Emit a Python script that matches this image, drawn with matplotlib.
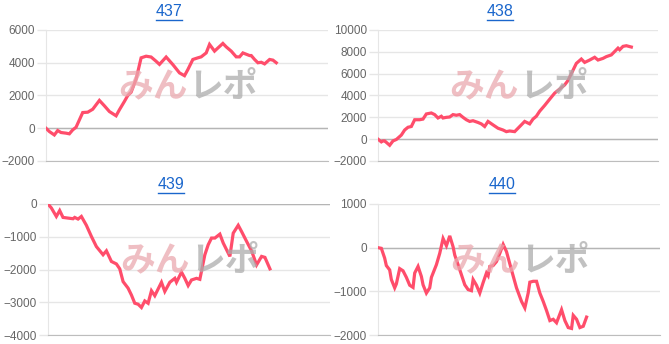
import matplotlib
matplotlib.use("Agg")
import matplotlib.pyplot as plt
from matplotlib.lines import Line2D

# ---------------- data ----------------
titles = ["437", "438", "439", "440"]

x437 = [0, 2, 5, 7, 9, 12, 14, 16, 18, 20, 22, 25, 28, 32, 35, 38, 42, 44, 47, 49, 51, 54, 57, 60, 63, 66, 68,
        72, 76, 80, 83, 85, 88, 91, 93, 96, 98, 101, 103, 106, 108, 111, 114, 116, 118, 120, 122, 123, 125, 127,
        129, 131, 134, 136, 138]
y437 = [0, -200, -410, -140, -260, -300, -340, -100, 60, 510, 960, 980, 1160, 1700, 1370, 1020, 760, 1130, 1640,
        2000, 2200, 3000, 4300, 4400, 4350, 4090, 3900, 4350, 3890, 3380, 3210, 3580, 4200, 4300, 4360, 4600, 5120,
        4710, 4900, 5180, 4970, 4710, 4360, 4360, 4600, 4520, 4440, 4440, 4200, 4000, 4030, 3930, 4200, 4160, 4000]

x438 = [0, 2, 3, 4, 7, 9, 11, 14, 16, 18, 20, 22, 25, 27, 29, 32, 34, 36, 38, 39, 41, 43, 45, 47, 49, 51, 53, 55,
        57, 60, 62, 64, 66, 69, 72, 75, 77, 79, 82, 84, 86, 88, 91, 93, 95, 97, 100, 103, 106, 109, 112, 114, 116,
        119, 122, 124, 127, 130, 132, 135, 137, 140, 142, 144, 145, 147, 149, 152]
y438 = [0, -250, -160, -160, -560, -160, -30, 375, 840, 1090, 1160, 1780, 1780, 1840, 2310, 2400, 2250, 1940, 2100,
        1940, 2000, 2030, 2250, 2190, 2250, 2000, 1780, 1625, 1690, 1530, 1400, 1160, 1625, 1310, 1000, 840, 690,
        750, 690, 1000, 1310, 1625, 1400, 1840, 2100, 2560, 3090, 3660, 4220, 4590, 4970, 5375, 6000, 6940, 7340,
        7030, 7250, 7500, 7250, 7400, 7560, 7720, 8030, 8340, 8190, 8500, 8560, 8440]

x439 = [0, 2, 5, 7, 9, 12, 15, 16, 18, 20, 23, 26, 29, 33, 35, 38, 41, 43, 45, 48, 50, 52, 54, 56, 58, 60, 62, 64,
        68, 70, 73, 76, 77, 80, 82, 84, 86, 89, 91, 94, 96, 98, 100, 103, 105, 109, 111, 114, 116, 119, 122, 125,
        128, 130, 133]
y439 = [0, -120, -380, -200, -410, -430, -450, -410, -460, -380, -650, -990, -1300, -1550, -1430, -1755, -1830,
        -1980, -2370, -2570, -2780, -3030, -3060, -3160, -2960, -3030, -2650, -2800, -2390, -2670, -2390, -2270,
        -2390, -2080, -2270, -2490, -2320, -2270, -2300, -1550, -1245, -1040, -1040, -920, -1190, -1600, -890,
        -650, -840, -1140, -1430, -1860, -1600, -1630, -1980]

x440 = [0, 2, 4, 5, 7, 8, 10, 11, 13, 15, 17, 19, 21, 22, 24, 26, 27, 29, 31, 32, 35, 37, 39, 41, 43, 45, 46, 48,
        50, 52, 54, 56, 57, 59, 61, 63, 65, 66, 67, 69, 71, 73, 75, 77, 80, 83, 86, 88, 90, 91, 93, 95, 97, 99,
        101, 103, 105, 107, 108, 110, 112, 114, 116, 117, 119, 121, 123, 125]
y440 = [0, -15, -240, -410, -510, -730, -920, -830, -480, -530, -680, -860, -910, -580, -430, -660, -850, -1040,
        -920, -680, -390, -130, 210, 45, 270, 20, -170, -390, -620, -850, -960, -985, -730, -860, -1040, -800,
        -580, -640, -430, -410, -320, -130, 75, -90, -510, -920, -1230, -1380, -1040, -790, -770, -770, -1040,
        -1230, -1440, -1670, -1640, -1720, -1620, -1420, -1670, -1830, -1850, -1550, -1640, -1830, -1800, -1590]

xs = [x437, x438, x439, x440]
ys = [y437, y438, y439, y440]
x_max = [169, 168, 169, 169]
y_limits = [(-2000, 6000), (-2000, 10000), (-4000, 0), (-2000, 1000)]
y_steps = [2000, 2000, 1000, 1000]

# ---------------- layout ----------------
W, H = 669, 344
fig = plt.figure(figsize=(W / 100, H / 100), dpi=100)
# axes boxes in pixels: left, top, right, bottom
boxes = [(46, 30, 328, 161), (378, 30, 658, 161), (48, 204, 330, 335), (378, 204, 660, 335)]
title_pos = [(169, 12), (500, 12), (171, 185), (502, 185)]

line_color = "#ff4d6b"
grid_color = "#e6e6e6"

plt.rcParams["font.family"] = ["Liberation Sans", "DejaVu Sans"]

axes = []
for i in range(4):
    l, t, r, b = boxes[i]
    ax = fig.add_axes([l / W, 1 - b / H, (r - l) / W, (b - t) / H])
    axes.append(ax)
    lo, hi = y_limits[i]
    ax.set_ylim(lo, hi)
    ax.set_xlim(0, x_max[i])
    ax.set_yticks(list(range(lo, hi + 1, y_steps[i])))
    ax.set_xticks([])
    ax.grid(axis="y", color=grid_color, lw=1)
    ax.set_axisbelow(True)
    ax.tick_params(axis="y", length=6.5, width=1, color=grid_color, pad=1.4,
                   labelsize=8.5, labelcolor="#666666")
    for s in ["top", "right"]:
        ax.spines[s].set_visible(False)
    ax.spines["left"].set_color(grid_color)
    ax.spines["bottom"].set_color("#bdbdbd")
    ax.axhline(0, color="#b5b5b5", lw=1, zorder=1)
    ax.patch.set_alpha(0)

    # watermark logo text
    cx = (l + r) / 2
    cy = (t + b) / 2 - 9
    fig.text((cx + 1) / W, 1 - cy / H, "みん", ha="right", va="center", fontsize=25, fontweight="bold",
             color="#eaa9af", alpha=0.75, family=["Noto Sans CJK JP"], zorder=0)
    fig.text((cx + 1) / W, 1 - cy / H, "レポ", ha="left", va="center", fontsize=25, fontweight="bold",
             color="#adadad", alpha=0.75, family=["Noto Sans CJK JP"], zorder=0)

    ax.plot(xs[i], ys[i], color=line_color, lw=2.3, solid_joinstyle="miter", zorder=3)

    tx, ty = title_pos[i]
    txt = fig.text(tx / W, 1 - ty / H, titles[i], ha="center", va="center", fontsize=11.5, color="#1a66cc")
    axes[-1]._title_text = txt

fig.canvas.draw()
renderer = fig.canvas.get_renderer()
for ax in axes:
    bb = ax._title_text.get_window_extent(renderer)
    yline = (bb.y0 - 0.5) / H
    fig.add_artist(Line2D([bb.x0 / W, bb.x1 / W], [yline, yline], color="#1a66cc", lw=1))

fig.savefig("out.png", dpi=100)
